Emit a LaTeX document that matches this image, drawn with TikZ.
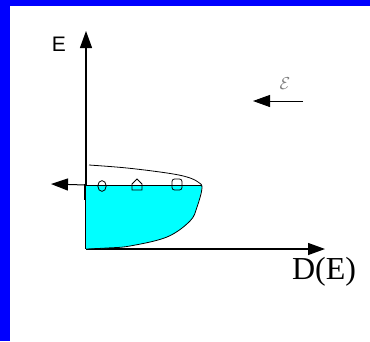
\documentclass[tikz,border=0pt]{standalone}
\usepackage{fontspec}
\setmainfont{Liberation Serif}
\newfontfamily\arialfont{Liberation Sans}
\usetikzlibrary{arrows.meta}
\definecolor{frameblue}{RGB}{0,0,255}
\definecolor{bandcyan}{RGB}{0,255,255}

\begin{document}
\begin{tikzpicture}[x=1pt, y=-1pt, every node/.style={inner sep=0pt},
	axis/.style={line width=1.3pt, -{Triangle[length=17pt,width=12pt]}},
	edge/.style={line width=0.8pt}]
	\useasboundingbox (0,0) rectangle (370,341);
	\fill[frameblue] (0,0) rectangle (370,341);
	\fill[white] (10,6) rectangle (370,341);
	% axes
	\coordinate (O) at (86,249);
	\coordinate (Etip) at (86,31);
	\coordinate (Dtip) at (325,249);
	\draw[axis] (O) -- (Etip);
	\draw[axis] (O) -- (Dtip);
	\node[font=\arialfont\fontsize{21}{21}\selectfont] (Elab) at (59,44) {E};
	\node[font=\fontsize{32}{32}\selectfont] (Dlab) at (324,272) {D(E)};
	% filled band
	\fill[bandcyan] (86,185) -- (202,185)
		-- plot[smooth, tension=0.6] coordinates {(202,187) (197,207) (190,221) (167,237) (130,246) (107,248)}
		-- (86,249) -- cycle;
	\draw[edge] plot[smooth, tension=0.6] coordinates {(89,165) (127,168) (167,173) (187,177) (198,182) (202,188) (197,207) (190,221) (167,237) (130,246) (107,248) (86,249)};
	% Fermi level
	\coordinate (Fl) at (86,185);
	\coordinate (Fr) at (202,185);
	\coordinate (Ftip) at (51,184);
	\draw[edge] (Fl) -- (Fr);
	\draw[axis, line width=1pt] (Fl) -- (Ftip);
	\draw[line width=1.8pt] (85,184) -- (85,200);
	% holes
	\draw[edge] (102,186) ellipse (4.2pt and 5.4pt);
	\draw[edge] (132,190) -- (132,184) -- (137,179) -- (142,184) -- (142,190) -- cycle;
	\draw[edge, rounded corners=2.5pt] (172,179) rectangle (182,190);
	% field
	\coordinate (fr) at (303,101);
	\coordinate (fl) at (253,101);
	\draw[axis, line width=1pt] (fr) -- (fl);
	\node[text=gray, font=\fontsize{18}{18}\selectfont] (field) at (285,84) {$\mathcal{E}$};
\end{tikzpicture}
\end{document}
